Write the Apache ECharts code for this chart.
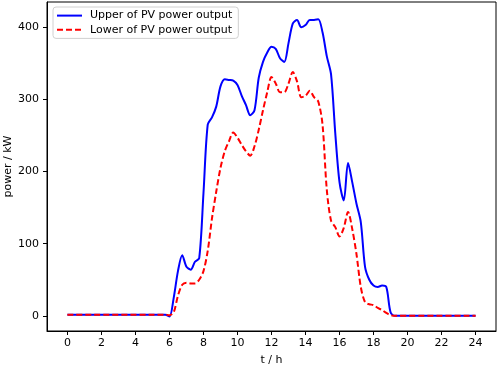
<!DOCTYPE html>
<html>
<head>
<meta charset="utf-8">
<script src="https://cdn.jsdelivr.net/npm/echarts@6/dist/echarts.min.js"></script>
<style>
  html, body { margin: 0; padding: 0; background: #fff; }
  #chart { width: 498px; height: 366px; }
</style>
</head>
<body>
<div id="chart"></div>
<script>
// time in hours
const hours = [0, 5.75,
  6, 6.25, 6.5, 6.75, 7, 7.25, 7.5, 7.75,
  8, 8.25, 8.5, 8.75, 9, 9.25, 9.5, 9.75,
  10, 10.25, 10.5, 10.75, 11, 11.25, 11.5, 11.75,
  12, 12.25, 12.5, 12.75, 13, 13.25, 13.5, 13.75,
  14, 14.25, 14.5, 14.75, 15, 15.25, 15.5, 15.75,
  16, 16.25, 16.5, 16.75, 17, 17.25, 17.5, 17.75,
  18, 18.25, 18.5, 18.75, 19, 19.25, 24];

const upperPower = [1.5, 1.5,
  -1, 25, 62, 84, 68, 64, 75, 80,
  170, 265, 275, 290, 318, 328, 327, 326,
  320, 305, 292, 278, 285, 330, 352, 365,
  373, 370, 357, 352, 378, 405, 410, 400,
  403, 410, 410, 411, 393, 360, 335, 253,
  185, 160, 212, 185, 155, 130, 68, 50,
  42, 40, 42, 40, 5, 0, 0];

const lowerPower = [1.5, 1.5,
  1, 5, 28, 43, 46, 45, 45, 50,
  62, 90, 135, 172, 205, 228, 242, 254,
  247, 237, 228, 222, 235, 258, 285, 310,
  331, 322, 310, 310, 322, 338, 325, 303,
  305, 312, 303, 297, 265, 175, 132, 123,
  110, 122, 144, 120, 85, 40, 19, 16,
  15, 11, 8, 4, 1, 0, 0];

const xTicks = [0, 2, 4, 6, 8, 10, 12, 14, 16, 18, 20, 22, 24];
const yTicks = [0, 100, 200, 300, 400];

const font = '"DejaVu Sans", sans-serif';

const chart = echarts.init(document.getElementById('chart'));
chart.setOption({
  animation: false,
  grid: {
    left: 47, right: 2, top: 2, bottom: 35,
    outerBoundsMode: 'none',
    containLabel: false,
    show: true, borderColor: '#000', borderWidth: 1,
    backgroundColor: 'transparent'
  },
  legend: {
    orient: 'vertical',
    left: 53, top: 7,
    padding: [3, 6, 3, 3],
    itemGap: 3,
    itemWidth: 25,
    itemHeight: 14,
    backgroundColor: '#fff',
    borderColor: '#d0d0d0',
    borderWidth: 1,
    borderRadius: 3,
    itemStyle: { opacity: 0 },
    textStyle: { fontFamily: font, fontSize: 11, color: '#000', padding: [0, 0, 0, 3] },
    data: ['Upper of PV power output', 'Lower of PV power output']
  },
  xAxis: {
    type: 'value',
    min: -1.2, max: 25.2,
    name: 't / h',
    nameLocation: 'middle',
    nameGap: 24,
    nameMoveOverlap: false,
    nameTextStyle: { fontFamily: font, fontSize: 11, color: '#000' },
    axisLine: { show: true, onZero: false, lineStyle: { color: '#000' } },
    axisTick: { show: true, customValues: xTicks, length: 4, lineStyle: { color: '#000' } },
    axisLabel: { customValues: xTicks, margin: 7, fontFamily: font, fontSize: 11, color: '#000' },
    splitLine: { show: false }
  },
  yAxis: {
    type: 'value',
    min: -21, max: 435,
    name: 'power / kW',
    nameLocation: 'middle',
    nameGap: 33,
    nameMoveOverlap: false,
    nameTextStyle: { fontFamily: font, fontSize: 11, color: '#000' },
    axisLine: { show: true, onZero: false, lineStyle: { color: '#000' } },
    axisTick: { show: true, customValues: yTicks, length: 4, lineStyle: { color: '#000' } },
    axisLabel: { customValues: yTicks, margin: 8, fontFamily: font, fontSize: 11, color: '#000' },
    splitLine: { show: false }
  },
  series: [
    {
      name: 'Upper of PV power output',
      type: 'line',
      symbol: 'none',
      smooth: 0.3,
      data: hours.map((t, i) => [t, upperPower[i]]),
      lineStyle: { color: '#0000ff', width: 2 },
      itemStyle: { color: '#0000ff' },
      z: 2
    },
    {
      name: 'Lower of PV power output',
      type: 'line',
      symbol: 'none',
      smooth: 0.3,
      data: hours.map((t, i) => [t, lowerPower[i]]),
      lineStyle: { color: '#ff0000', width: 2, type: [6, 3] },
      itemStyle: { color: '#ff0000' },
      z: 3
    }
  ]
});
</script>
</body>
</html>
